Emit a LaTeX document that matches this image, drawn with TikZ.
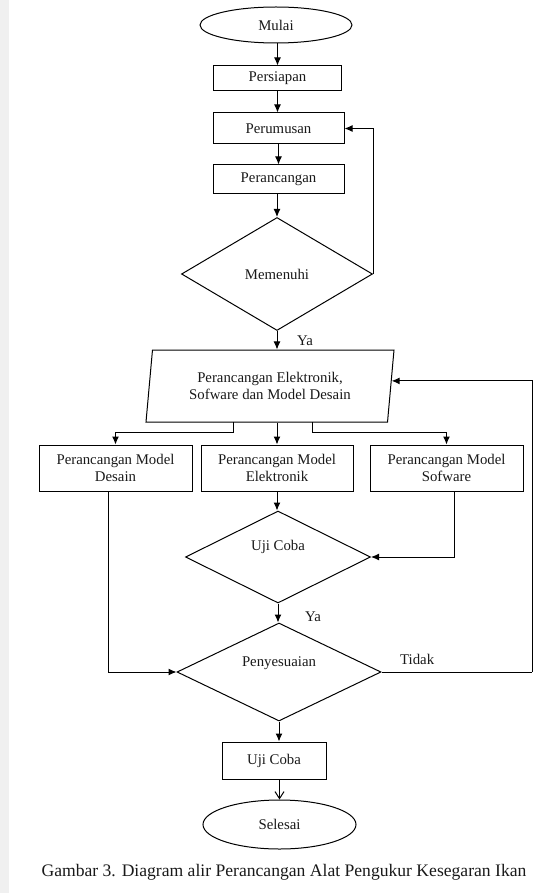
\documentclass[tikz,border=0pt]{standalone}
\usepackage{fontspec}
\setmainfont{Liberation Serif}
\usetikzlibrary{shapes.geometric,arrows.meta,calc}
\begin{document}
\begin{tikzpicture}[x=1pt,y=-1pt,
  every node/.style={font=\fontsize{14.8}{17}\selectfont, text=black!90},
  box/.style={draw, rectangle, inner sep=0pt, line width=1pt, align=center},
  term/.style={draw, ellipse, inner sep=0pt, line width=1pt},
  dec/.style={draw, diamond, inner sep=0pt, line width=1pt},
  conn/.style={line width=1pt, -{Latex[length=8pt,width=7pt]}},
  plain/.style={line width=1pt},
  lbl/.style={inner sep=0pt, anchor=west}]
\useasboundingbox (0,0) rectangle (536,893);
\fill[gray!12] (0,0) rectangle (9,893);

\node[term, minimum width=152pt, minimum height=36pt] (mulai) at (276,25) {Mulai};
\node[box, minimum width=128pt, minimum height=25pt] (persiapan) at (277.5,78.5) {Persiapan};
\node[box, minimum width=131pt, minimum height=31pt] (perumusan) at (278.5,128.5) {Perumusan};
\node[box, minimum width=131pt, minimum height=29pt] (perancangan) at (278.5,179.5) {Perancangan};
\node[dec, minimum width=191pt, minimum height=113pt] (memenuhi) at (277,274) {Memenuhi};
\node[lbl] (ya1) at (297,341) {Ya};

\node[draw, trapezium, trapezium left angle=76.7, trapezium right angle=103.3,
      trapezium stretches body, inner sep=0pt, line width=1pt, align=center,
      minimum width=248pt, minimum height=72pt] (par) at (270,386)
      {Perancangan Elektronik,\\Sofware dan Model Desain};

\node[box, minimum width=153pt, minimum height=46pt] (pdl) at (115.5,468) {Perancangan Model\\Desain};
\node[box, minimum width=152pt, minimum height=46pt] (pme) at (277,468) {Perancangan Model\\Elektronik};
\node[box, minimum width=153pt, minimum height=46pt] (psw) at (446.5,468) {Perancangan Model\\Sofware};

\node[dec, minimum width=185pt, minimum height=92pt] (uji) at (278,557) {};
\node at (278,547) {Uji Coba};
\node[lbl] (ya2) at (305,617) {Ya};
\node[dec, minimum width=204pt, minimum height=98pt] (pen) at (279,672) {};
\node at (279,663) {Penyesuaian};
\node[lbl] (tidak) at (400,659) {Tidak};

\node[box, minimum width=104pt, minimum height=37pt] (ujb) at (274,760.5) {Uji Coba};
\node[term, minimum width=153pt, minimum height=49pt] (selesai) at (279.5,824.5) {Selesai};

\node[font=\fontsize{17.6}{20}\selectfont] (cap) at (284,872) {Gambar 3. Diagram alir Perancangan Alat Pengukur Kesegaran Ikan};

% connectors
\draw[conn] (mulai.south -| persiapan.north) -- (persiapan.north);
\draw[conn] (persiapan.south) -- (persiapan.south |- perumusan.north);
\draw[conn] (perumusan.south) -- (perancangan.north);
\draw[conn] (perancangan.south -| memenuhi.north) -- (memenuhi.north);
\draw[conn] (memenuhi.east) |- (perumusan.east);
\draw[conn] (memenuhi.south) -- (memenuhi.south |- par.north);

\coordinate (pb1) at (233,422);
\coordinate (pb2) at (312,422);
\coordinate (pin) at ($(par.top right corner)!0.43!(par.bottom right corner)$);
\draw[conn] (pb1) -- ++(0,10) -| (pdl.north);
\draw[conn] (pme.north |- par.south) -- (pme.north);
\draw[conn] (pb2) -- ++(0,10) -| (psw.north);

\draw[conn] (pme.south) -- (pme.south |- uji.north);
\draw[conn] ([xshift=8pt]psw.south) |- (uji.east);
\draw[conn] (uji.south) -- (uji.south |- pen.north);
\draw[conn] ([xshift=-7pt]pdl.south) |- (pen.west);
\coordinate (rr) at (532,672);
\draw[plain] (pen.east) -- (rr);
\draw[conn] (rr) |- (pin);
\draw[conn] (pen.south) -- (pen.south |- ujb.north);
\draw[line width=1pt, -{Straight Barb[length=7pt,width=9pt]}] (ujb.south -| selesai.north) -- (selesai.north);
\end{tikzpicture}
\end{document}
